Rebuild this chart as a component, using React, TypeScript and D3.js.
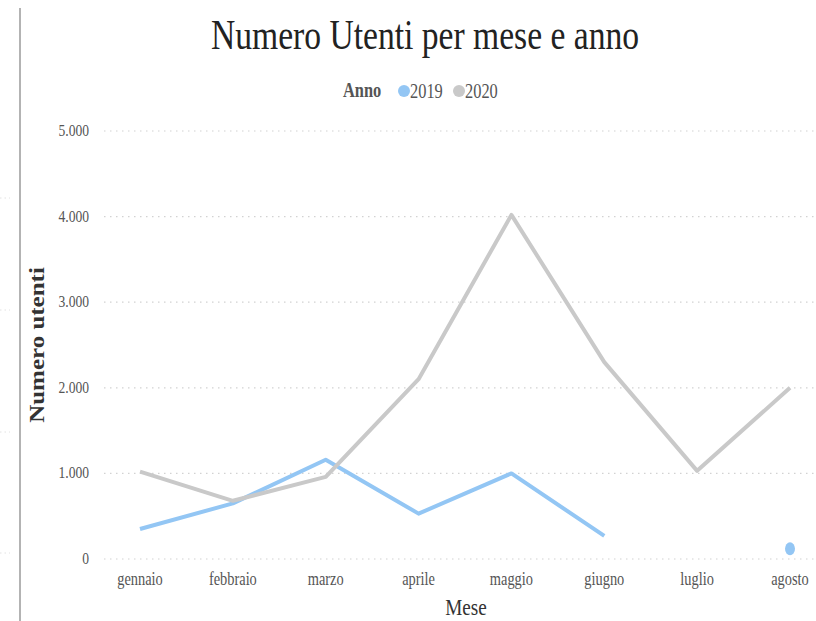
import React from "react";
import * as d3 from "d3";

const months = ["gennaio", "febbraio", "marzo", "aprile", "maggio", "giugno", "luglio", "agosto"];
const users2019: (number | null)[] = [350, 650, 1160, 530, 1000, 270, null, 120];
const users2020: (number | null)[] = [1020, 680, 960, 2100, 4020, 2300, 1030, 2000];
const yTicks = [0, 1000, 2000, 3000, 4000, 5000];
const seriesNames = ["2019", "2020"];
const seriesColors = ["#93c6f4", "#c9c9c9"];
const sideMarks = [198, 310, 432, 553];

const W = 816;
const H = 621;
const SX = 0.8;
const FONT = "'Liberation Serif', 'DejaVu Serif', serif";

const locale = d3.formatLocale({ decimal: ",", thousands: ".", grouping: [3], currency: ["€", ""] });
const fmt = locale.format(",.0f");

function T(props: { x: number; y: number; size: number; anchor?: string; fill?: string; weight?: string; children: React.ReactNode }) {
  const { x, y, size, anchor = "middle", fill = "#555", weight = "normal", children } = props;
  return (
    <text
      transform={`translate(${x},${y}) scale(${SX},1)`}
      textAnchor={anchor}
      fontSize={size}
      fontFamily={FONT}
      fill={fill}
      fontWeight={weight}
    >
      {children}
    </text>
  );
}

export default function App() {
  const x = d3.scalePoint<string>().domain(months).range([140, 790]);
  const y = d3.scaleLinear().domain([0, 5000]).range([559, 131]);
  const series = [users2019, users2020];

  const line = d3
    .line<number | null>()
    .defined((d) => d != null)
    .x((_, i) => x(months[i]) as number)
    .y((d) => y(d as number));

  return (
    <svg width={W} height={H} style={{ position: "absolute", left: 0, top: 0, background: "#fff" }}>
      <rect width={W} height={H} fill="#fff" />
      {/* left divider */}
      <line x1={20} x2={20} y1={8} y2={H} stroke="#a0a0a0" strokeWidth={1.6} />
      {sideMarks.map((m) => (
        <line key={m} x1={0} x2={10} y1={m} y2={m} stroke="#e2e2e2" strokeDasharray="1.5,3" />
      ))}

      {/* title */}
      <T x={425} y={49} size={42} fill="#222">Numero Utenti per mese e anno</T>

      {/* legend */}
      <T x={343} y={97} size={20.5} anchor="start" fill="#555" weight="bold">Anno</T>
      {seriesNames.map((n, i) => {
        const cx = 404 + i * 55;
        return (
          <g key={n}>
            <circle cx={cx} cy={91} r={6} fill={seriesColors[i]} />
            <T x={cx + 6} y={97.5} size={20.5} anchor="start" fill="#555">{n}</T>
          </g>
        );
      })}

      {/* grid + y ticks */}
      {yTicks.map((t) => (
        <g key={t}>
          <line x1={104} x2={W} y1={y(t)} y2={y(t)} stroke="#d2d2d2" strokeWidth={1.2} strokeDasharray="1.5,4.5" />
          <T x={89} y={y(t) + 5} size={17} anchor="end" fill="#555">{fmt(t)}</T>
        </g>
      ))}

      {/* x ticks */}
      {months.map((m) => (
        <T key={m} x={x(m) as number} y={585} size={18} fill="#555">{m}</T>
      ))}

      {/* axis titles */}
      <T x={466} y={615} size={24} fill="#333">Mese</T>
      <text
        transform={`translate(44,345) rotate(-90) scale(1,${SX})`}
        textAnchor="middle"
        fontSize={25}
        fontFamily={FONT}
        fontWeight="bold"
        fill="#333"
      >
        Numero utenti
      </text>

      {/* lines */}
      {series.map((s, si) => (
        <g key={si}>
          <path d={line(s) || ""} fill="none" stroke={seriesColors[si]} strokeWidth={4} strokeLinejoin="round" />
          {s.map((v, i) => {
            const prev = i > 0 ? s[i - 1] : null;
            const next = i < s.length - 1 ? s[i + 1] : null;
            if (v == null || prev != null || next != null) return null;
            return <ellipse key={i} cx={x(months[i]) as number} cy={y(v)} rx={5} ry={6.5} fill={seriesColors[si]} />;
          })}
        </g>
      ))}
    </svg>
  );
}
